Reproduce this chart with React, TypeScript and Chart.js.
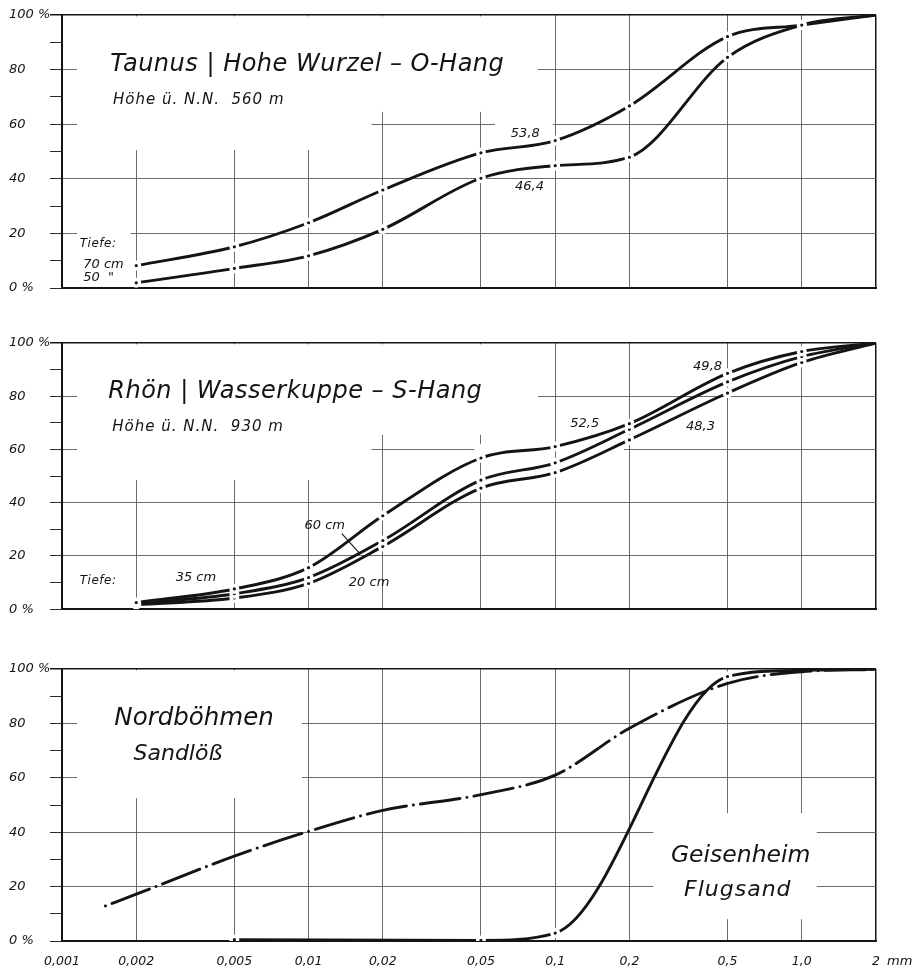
import React, { useEffect, useRef } from 'react';
import { Chart, registerables } from 'chart.js';

Chart.register(...registerables);

const FONT = '"DejaVu Sans", "Liberation Sans", sans-serif';
const INK = '#141414';
const GRID = '#5a5a5a';

// ---------- data ----------
const SIEVE_MM = [0.002, 0.005, 0.01, 0.02, 0.05, 0.1, 0.2, 0.5, 1, 2];
const X_TICKS = [0.001, 0.002, 0.005, 0.01, 0.02, 0.05, 0.1, 0.2, 0.5, 1, 2];
const X_TICK_LABELS = ['0,001', '0,002', '0,005', '0,01', '0,02', '0,05', '0,1', '0,2', '0,5', '1,0', '2'];
const Y_TICKS = [0, 20, 40, 60, 80, 100];
const Y_TICK_LABELS = ['0 %', '20', '40', '60', '80', '100 %'];

// Taunus / Hohe Wurzel (cumulative %)
const TAUNUS_70CM = [8.2, 15.1, 23.9, 35.9, 49.5, 54.0, 66.7, 92.1, 96.3, 100];
const TAUNUS_50CM = [1.9, 7.2, 11.8, 21.5, 40.2, 44.8, 47.9, 84.5, 96.3, 100];

// Rhön / Wasserkuppe (cumulative %)
const RHOEN_35CM = [2.5, 7.6, 15.6, 35.1, 56.8, 61.1, 69.7, 88.6, 96.8, 100];
const RHOEN_60CM = [2.0, 5.8, 11.9, 25.8, 48.5, 55.0, 67.6, 85.4, 94.9, 100];
const RHOEN_20CM = [1.7, 4.2, 9.7, 23.6, 45.5, 51.3, 63.6, 81.2, 92.7, 100];

// Nordböhmen Sandlöß
const NORD_MM = [0.0015, 0.002, 0.005, 0.01, 0.02, 0.05, 0.1, 0.2, 0.5, 1, 2];
const NORD_PCT = [12.9, 17.2, 31.2, 40.3, 48.0, 53.8, 61.0, 78.2, 94.7, 99.0, 99.8];

// Geisenheim Flugsand
const GEIS_MM = [0.005, 0.05, 0.1, 0.5, 1, 2];
const GEIS_PCT = [0.5, 0.2, 2.9, 97.2, 99.5, 99.9];

// ---------- helpers ----------
type Mask = [number, number, number, number];
type Note = { text: string; x: number; y: number; size: number; ls?: number };
type Leader = [number, number, number, number];

const pts = (xs: number[], ys: number[]) => xs.map((x, i) => ({ x, y: ys[i] }));

const curve = (xs: number[], ys: number[], extra: any = {}) => ({
  data: pts(xs, ys),
  borderColor: INK,
  borderWidth: 2.9,
  pointRadius: 0,
  pointHoverRadius: 0,
  cubicInterpolationMode: 'monotone',
  fill: false,
  order: 2,
  ...extra,
});

const dots = (xs: number[], ys: number[]) => ({
  data: pts(xs, ys),
  showLine: false,
  order: 1,
  pointRadius: (c: any) =>
    c.dataIndex === c.dataset.data.length - 1 || (c.raw && c.raw.y > 98.5) ? 0 : 3.3,
  pointHoverRadius: 0,
  pointBackgroundColor: INK,
  pointBorderColor: '#ffffff',
  pointBorderWidth: 3.4,
});

interface PanelProps {
  top: number;
  height: number;
  padTop: number;
  axisH: number;
  showX: boolean;
  datasets: any[];
  masks: Mask[];
  notes: Note[];
  leaders?: Leader[];
  unit?: string;
}

function Panel(p: PanelProps) {
  const ref = useRef<HTMLCanvasElement | null>(null);
  useEffect(() => {
    const canvas = ref.current;
    if (!canvas) return;
    const tickFont = { family: FONT, size: 13, style: 'italic' as const };
    const decor = {
      id: 'decor',
      beforeDatasetsDraw(chart: any) {
        const { ctx, scales } = chart;
        const xs = scales.x;
        const ys = scales.y;
        ctx.save();
        ctx.fillStyle = '#ffffff';
        for (const [x0, x1, y0, y1] of p.masks) {
          const a = xs.getPixelForValue(x0);
          const b = xs.getPixelForValue(x1);
          const c = ys.getPixelForValue(y1);
          const d = ys.getPixelForValue(y0);
          ctx.fillRect(a, c, b - a, d - c);
        }
        ctx.restore();
      },
      afterDraw(chart: any) {
        const { ctx, scales, chartArea } = chart;
        const xs = scales.x;
        const ys = scales.y;
        ctx.save();
        ctx.fillStyle = INK;
        ctx.strokeStyle = INK;
        ctx.textAlign = 'left';
        ctx.textBaseline = 'alphabetic';
        for (const n of p.notes) {
          ctx.font = `italic ${n.size}px ${FONT}`;
          (ctx as any).letterSpacing = `${n.ls ?? 0}px`;
          ctx.fillText(n.text, xs.getPixelForValue(n.x), ys.getPixelForValue(n.y));
        }
        (ctx as any).letterSpacing = '0px';
        ctx.lineWidth = 1.1;
        for (const [x0, y0, x1, y1] of p.leaders ?? []) {
          ctx.beginPath();
          ctx.moveTo(xs.getPixelForValue(x0), ys.getPixelForValue(y0));
          ctx.lineTo(xs.getPixelForValue(x1), ys.getPixelForValue(y1));
          ctx.stroke();
        }
        if (p.unit) {
          ctx.font = `italic 13px ${FONT}`;
          ctx.textBaseline = 'middle';
          ctx.fillText(p.unit, xs.getPixelForValue(2) + 11, chartArea.bottom + 13 + 8);
        }
        ctx.restore();
      },
    };
    const chart = new Chart(canvas, {
      type: 'line',
      data: { datasets: p.datasets },
      options: {
        animation: false,
        responsive: false,
        events: [],
        layout: { autoPadding: false, padding: { left: 9, right: 43, top: p.padTop, bottom: 0 } },
        plugins: { legend: { display: false }, tooltip: { enabled: false } },
        scales: {
          x: {
            type: 'logarithmic',
            min: 0.001,
            max: 2,
            afterBuildTicks: (s: any) => {
              s.ticks = X_TICKS.map((v) => ({ value: v }));
            },
            afterFit: (s: any) => {
              s.height = p.axisH;
            },
            ticks: {
              display: p.showX,
              autoSkip: false,
              maxRotation: 0,
              padding: 13,
              color: INK,
              font: { ...tickFont, size: 12.5 },
              callback: (v: any) => {
                const i = X_TICKS.indexOf(Number(v));
                return i >= 0 ? X_TICK_LABELS[i] : '';
              },
            },
            grid: {
              drawTicks: false,
              color: (c: any) => (c.tick && c.tick.value === 2 ? INK : GRID),
              lineWidth: (c: any) => (c.tick && c.tick.value === 2 ? 1.5 : 0.9),
            },
            border: { display: true, color: INK, width: 2 },
          },
          y: {
            min: 0,
            max: 100,
            afterFit: (s: any) => {
              s.width = 53;
            },
            ticks: {
              stepSize: 10,
              autoSkip: false,
              crossAlign: 'far',
              color: INK,
              font: tickFont,
              callback: (v: any) => {
                const i = Y_TICKS.indexOf(Number(v));
                return i >= 0 ? Y_TICK_LABELS[i] : '';
              },
            },
            grid: {
              color: (c: any) =>
                c.tick && c.tick.value === 100 ? INK : c.tick && c.tick.value % 20 === 0 ? GRID : 'rgba(0,0,0,0)',
              lineWidth: (c: any) => (c.tick && c.tick.value === 100 ? 1.5 : 0.9),
              tickColor: INK,
              tickLength: 12,
            },
            border: { display: true, color: INK, width: 2 },
          },
        },
      } as any,
      plugins: [decor],
    });
    return () => chart.destroy();
  }, []);
  return (
    <canvas
      ref={ref}
      width={919}
      height={p.height}
      style={{ position: 'absolute', left: 0, top: p.top, width: 919, height: p.height }}
    />
  );
}

// ---------- layout (annotations & grid gaps) ----------
const TAUNUS_MASKS: Mask[] = [
  [0.00115, 0.018, 50.5, 99.5],
  [0.018, 0.085, 64.5, 99.5],
  [0.057, 0.098, 58, 62],
  [0.00115, 0.0019, 18, 22],
];
const TAUNUS_NOTES: Note[] = [
  { text: 'Taunus | Hohe Wurzel – O-Hang', x: 0.00157, y: 79.5, size: 24, ls: 0.5 },
  { text: 'Höhe ü. N.N.  560 m', x: 0.00161, y: 67.4, size: 15, ls: 1 },
  { text: 'Tiefe:', x: 0.00118, y: 15.0, size: 12, ls: 0.5 },
  { text: '70 cm', x: 0.00122, y: 7.3, size: 13 },
  { text: '50  "', x: 0.00122, y: 2.6, size: 13 },
  { text: '53,8', x: 0.0661, y: 55.3, size: 13 },
  { text: '46,4', x: 0.0687, y: 35.9, size: 13 },
];

const RHOEN_MASKS: Mask[] = [
  [0.00115, 0.018, 48.5, 99.5],
  [0.018, 0.085, 65.5, 99.5],
  [0.047, 0.098, 58, 62],
  [0.102, 0.19, 58, 62],
];
const RHOEN_NOTES: Note[] = [
  { text: 'Rhön | Wasserkuppe – S-Hang', x: 0.00154, y: 79.3, size: 24, ls: 0.5 },
  { text: 'Höhe ü. N.N.  930 m', x: 0.0016, y: 66.8, size: 15, ls: 1 },
  { text: 'Tiefe:', x: 0.00118, y: 9.6, size: 12, ls: 0.5 },
  { text: '35 cm', x: 0.00289, y: 10.7, size: 13 },
  { text: '60 cm', x: 0.00963, y: 30.3, size: 13 },
  { text: '20 cm', x: 0.01456, y: 8.9, size: 13 },
  { text: '52,5', x: 0.1151, y: 68.3, size: 13 },
  { text: '49,8', x: 0.3625, y: 90.0, size: 13 },
  { text: '48,3', x: 0.3394, y: 67.5, size: 13 },
];
const RHOEN_LEADERS: Leader[] = [[0.01364, 28.4, 0.0161, 21]];

const BOTTOM_MASKS: Mask[] = [
  [0.00115, 0.0094, 52.5, 99.5],
  [0.25, 1.15, 8, 47],
];
const BOTTOM_NOTES: Note[] = [
  { text: 'Nordböhmen', x: 0.00163, y: 79.4, size: 24.5 },
  { text: 'Sandlöß', x: 0.00195, y: 66.5, size: 22 },
  { text: 'Geisenheim', x: 0.2946, y: 29.0, size: 23.5 },
  { text: 'Flugsand', x: 0.333, y: 16.5, size: 22, ls: 1 },
];

export default function App() {
  const taunus = [
    curve(SIEVE_MM, TAUNUS_70CM),
    curve(SIEVE_MM, TAUNUS_50CM),
    dots(SIEVE_MM, TAUNUS_70CM),
    dots(SIEVE_MM, TAUNUS_50CM),
  ];
  const rhoen = [
    curve(SIEVE_MM, RHOEN_35CM),
    curve(SIEVE_MM, RHOEN_60CM),
    curve(SIEVE_MM, RHOEN_20CM),
    dots(SIEVE_MM, RHOEN_35CM),
    dots(SIEVE_MM, RHOEN_60CM),
    dots(SIEVE_MM, RHOEN_20CM),
  ];
  const bottom = [
    curve(NORD_MM, NORD_PCT, { borderDash: [0.1, 7, 40, 7], borderCapStyle: 'round' }),
    curve(GEIS_MM, GEIS_PCT),
    dots(GEIS_MM, GEIS_PCT),
  ];
  return (
    <div
      style={{
        position: 'absolute',
        left: 0,
        top: 0,
        width: 919,
        height: 975,
        background: '#ffffff',
        overflow: 'hidden',
      }}
    >
      <Panel top={0} height={305} padTop={15} axisH={17} showX={false} datasets={taunus} masks={TAUNUS_MASKS} notes={TAUNUS_NOTES} />
      <Panel
        top={315}
        height={305}
        padTop={28}
        axisH={6}
        showX={false}
        datasets={rhoen}
        masks={RHOEN_MASKS}
        notes={RHOEN_NOTES}
        leaders={RHOEN_LEADERS}
      />
      <Panel
        top={640}
        height={335}
        padTop={29}
        axisH={34}
        showX={true}
        datasets={bottom}
        masks={BOTTOM_MASKS}
        notes={BOTTOM_NOTES}
        unit="mm"
      />
    </div>
  );
}
